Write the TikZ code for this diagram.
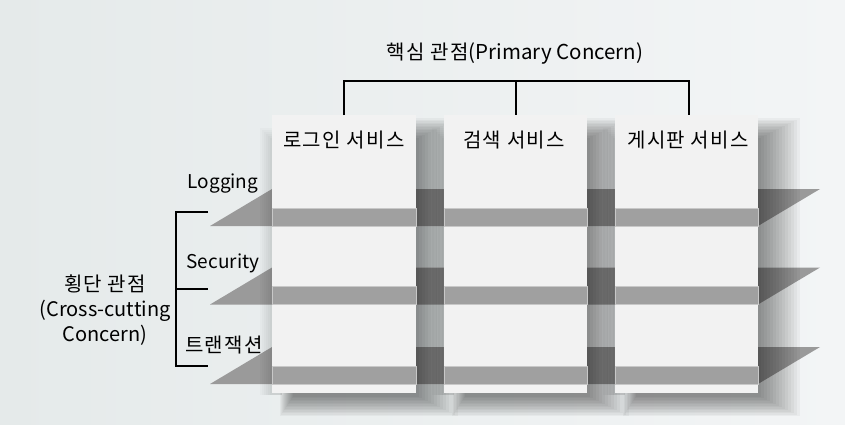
\documentclass[tikz,border=0pt]{standalone}
\usepackage{fontspec}
\setmainfont{Noto Sans CJK KR}
\newfontfamily\krfont[LetterSpace=6.5]{Noto Sans CJK KR}
\definecolor{bgl}{HTML}{E5EAEA}
\definecolor{bgr}{HTML}{F3F5F6}
\definecolor{boxfill}{HTML}{F2F2F2}
\definecolor{planegray}{HTML}{9A9A9A}
\definecolor{stripgray}{HTML}{A0A0A0}
\definecolor{stripedge}{HTML}{C8C8C8}
\tikzset{
  svcbox/.style={fill=boxfill, draw=none, minimum height=278pt, anchor=north west, inner sep=0pt},
  plane/.style={fill=planegray, draw=none},
  strip/.style={fill=stripgray, draw=stripedge, line width=0.7pt},
  shadowpiece/.style={fill=black, fill opacity=0.034, draw=none},
  lshadowpiece/.style={fill=black, fill opacity=0.02, draw=none},
  bracket/.style={draw=black, line width=1.8pt},
  lbl/.style={font=\fontsize{19}{23}\selectfont, text=black, inner sep=0pt},
  krlbl/.style={font=\krfont\fontsize{20}{23}\selectfont, text=black, inner sep=0pt},
}
\newcommand{\kr}[1]{{\krfont\fontsize{20}{23}\selectfont #1}}
\begin{document}
\begin{tikzpicture}[x=1pt,y=-1pt]
\useasboundingbox (0,0) rectangle (845,424);
\shade[left color=bgl, right color=bgr] (0,0) rectangle (845,424);
% planes
\foreach \yb in {226,304.5,384}{
  \fill[plane] (210,\yb) -- (758,\yb) -- (820,\yb-37) -- (272,\yb-37) -- cycle;
}
% soft shadows of the boxes
\foreach \l/\r in {272/416,444/587,615/758}{
  \foreach \i in {1,...,14}{
    \fill[shadowpiece] (\l+22-\i, 139-1.5*\i) rectangle (\r+3*\i, 395+1.5*\i);
  }
  \foreach \i in {1,...,6}{
    \fill[lshadowpiece] (\l-2*\i, 140-2*\i) rectangle (\l+10, 395);
  }
}
% boxes
\node[svcbox, minimum width=144pt] (b1) at (272,115) {};
\node[svcbox, minimum width=143pt] (b2) at (444,115) {};
\node[svcbox, minimum width=143pt] (b3) at (615,115) {};
% front strips
\foreach \yb in {226,304.5,384}{
  \foreach \l/\r in {272/416,444/587,615/758}{
    \filldraw[strip] (\l,\yb-18) rectangle (\r,\yb);
  }
}
% labels
\node[krlbl] (t1) at (344,140) {로그인 서비스};
\node[krlbl] (t2) at (514,140) {검색 서비스};
\node[krlbl] (t3) at (688,140) {게시판 서비스};
\node[lbl, font=\fontsize{20.5}{23}\selectfont] (title) at (515,54) {\kr{핵심 관점}(Primary Concern)};
\node[lbl] (lg) at (223,184) {Logging};
\node[lbl] (sc) at (223,263) {Security};
\node[krlbl] (tx) at (224,345) {트랜잭션};
\node[lbl, align=center, font=\fontsize{20}{25}\selectfont] (cc) at (105,310) {\kr{횡단 관점}\\(Cross-cutting\\Concern)};
% top bracket
\coordinate (p1) at (344,81);
\coordinate (p2) at (516,81);
\coordinate (p3) at (689,81);
\draw[bracket] (b1.north west -| p1) -- (p1) -- (p3) -- (b3.north west -| p3);
\draw[bracket] (p2) -- (b2.north west -| p2);
% left bracket
\coordinate (q1) at (208,212);
\coordinate (q2) at (208,289);
\coordinate (q3) at (208,366);
\coordinate (v1) at (176,212);
\coordinate (v2) at (176,289);
\coordinate (v3) at (176,366);
\draw[bracket] (q1) -- (v1) -- (v3) -- (q3);
\draw[bracket] (v2) -- (q2);
\end{tikzpicture}
\end{document}
